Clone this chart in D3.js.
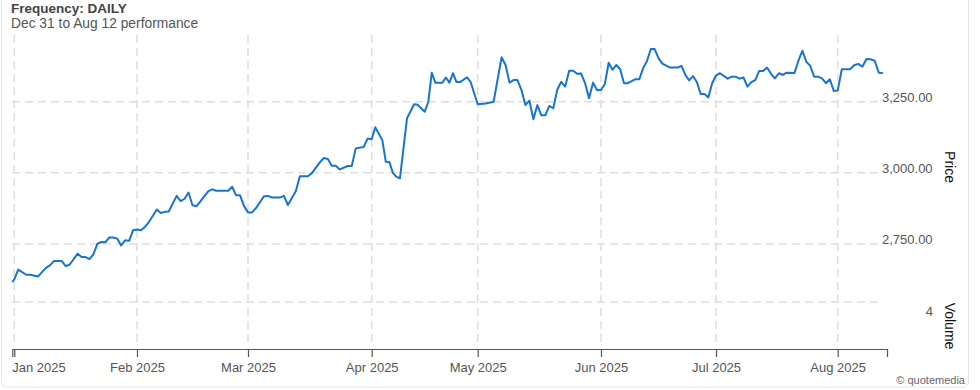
<!doctype html>
<html>
<head>
<meta charset="utf-8">
<script src="https://d3js.org/d3.v7.min.js"></script>
<style>
  body { margin: 0; background: #fff; }
  svg { font-family: Helvetica, Arial, "Liberation Sans", sans-serif; display: block; }
</style>
</head>
<body>
<svg width="980" height="390"></svg>
<script>
// daily closes
var dates = ["2024-12-31","2025-01-01","2025-01-02","2025-01-04","2025-01-05","2025-01-07","2025-01-08","2025-01-09","2025-01-10","2025-01-11",
  "2025-01-13","2025-01-14","2025-01-15","2025-01-17","2025-01-18","2025-01-19","2025-01-20","2025-01-21","2025-01-22","2025-01-23",
  "2025-01-24","2025-01-25","2025-01-26","2025-01-27","2025-01-28","2025-01-29","2025-01-30","2025-01-31","2025-02-01","2025-02-02",
  "2025-02-03","2025-02-04","2025-02-06","2025-02-07","2025-02-08","2025-02-09","2025-02-11","2025-02-12","2025-02-13","2025-02-14",
  "2025-02-15","2025-02-16","2025-02-17","2025-02-19","2025-02-20","2025-02-21","2025-02-24","2025-02-25","2025-02-26","2025-02-27",
  "2025-02-28","2025-03-01","2025-03-02","2025-03-03","2025-03-05","2025-03-06","2025-03-07","2025-03-09","2025-03-10","2025-03-11",
  "2025-03-12","2025-03-13","2025-03-14","2025-03-16","2025-03-17","2025-03-19","2025-03-20","2025-03-21","2025-03-22","2025-03-23",
  "2025-03-24","2025-03-26","2025-03-27","2025-03-28","2025-03-30","2025-03-31","2025-04-01","2025-04-02","2025-04-04","2025-04-05",
  "2025-04-06","2025-04-07","2025-04-08","2025-04-09","2025-04-11","2025-04-13","2025-04-14","2025-04-16","2025-04-17","2025-04-18",
  "2025-04-19","2025-04-21","2025-04-22","2025-04-23","2025-04-24","2025-04-25","2025-04-26","2025-04-28","2025-04-29","2025-05-01",
  "2025-05-03","2025-05-05","2025-05-07","2025-05-08","2025-05-09","2025-05-10","2025-05-11","2025-05-12","2025-05-13","2025-05-14",
  "2025-05-15","2025-05-16","2025-05-17","2025-05-18","2025-05-19","2025-05-20","2025-05-21","2025-05-22","2025-05-23","2025-05-24",
  "2025-05-25","2025-05-26","2025-05-27","2025-05-28","2025-05-29","2025-05-30","2025-05-31","2025-06-01","2025-06-02","2025-06-03",
  "2025-06-04","2025-06-05","2025-06-06","2025-06-07","2025-06-08","2025-06-10","2025-06-11","2025-06-12","2025-06-13","2025-06-14",
  "2025-06-15","2025-06-16","2025-06-17","2025-06-19","2025-06-21","2025-06-22","2025-06-23","2025-06-24","2025-06-25","2025-06-26",
  "2025-06-27","2025-06-28","2025-06-29","2025-06-30","2025-07-01","2025-07-02","2025-07-04","2025-07-05","2025-07-06","2025-07-07",
  "2025-07-08","2025-07-09","2025-07-10","2025-07-11","2025-07-12","2025-07-13","2025-07-14","2025-07-15","2025-07-16","2025-07-17",
  "2025-07-18","2025-07-19","2025-07-21","2025-07-22","2025-07-23","2025-07-24","2025-07-25","2025-07-26","2025-07-27","2025-07-28",
  "2025-07-29","2025-07-30","2025-07-31","2025-08-01","2025-08-02","2025-08-04","2025-08-05","2025-08-06","2025-08-07","2025-08-08",
  "2025-08-09","2025-08-10","2025-08-11","2025-08-12"];

var prices = [2616,2626,2660,2642,2642,2636,2651,2666,2675,2690,
  2690,2672,2678,2716,2704,2704,2697,2714,2751,2757,
  2756,2773,2773,2769,2745,2763,2761,2798,2801,2798,
  2810,2827,2871,2859,2863,2864,2919,2901,2909,2931,
  2886,2883,2900,2936,2942,2937,2937,2951,2921,2921,
  2883,2861,2861,2876,2918,2919,2913,2913,2919,2887,
  2912,2936,2988,2988,2999,3037,3052,3049,3025,3025,
  3012,3024,3024,3086,3091,3121,3118,3160,3115,3039,
  3038,3000,2986,2981,3192,3241,3239,3215,3248,3352,
  3317,3317,3335,3317,3350,3319,3319,3336,3319,3241,
  3244,3250,3406,3379,3317,3326,3326,3291,3238,3254,
  3188,3238,3202,3202,3235,3227,3292,3320,3303,3359,
  3359,3348,3349,3315,3262,3317,3291,3291,3312,3387,
  3362,3379,3364,3315,3315,3329,3329,3368,3393,3435,
  3435,3403,3384,3370,3370,3376,3344,3325,3340,3319,
  3277,3277,3265,3315,3342,3350,3331,3338,3338,3331,
  3335,3303,3319,3326,3358,3358,3370,3348,3332,3350,
  3344,3352,3351,3394,3429,3391,3376,3338,3338,3332,
  3315,3329,3288,3289,3364,3364,3378,3383,3373,3400,
  3399,3394,3352,3351];

var priceTicks = [2750, 3000, 3250];
var volumeTicks = [4];
var monthStarts = ["2025-01-01","2025-02-01","2025-03-01","2025-04-01","2025-05-01","2025-06-01","2025-07-01","2025-08-01"];

var parseDate = d3.timeParse("%Y-%m-%d");
var data = dates.map(function(d, i) { return { date: parseDate(d), price: prices[i] }; });
var months = monthStarts.map(parseDate);

var svg = d3.select("svg");

// time axis: one segment per month, matching the uneven month widths of the original
var x = d3.scaleTime()
  .domain([parseDate("2024-12-31")].concat(months, [parseDate("2025-08-13")]))
  .range([12.3, 14.3, 137, 248, 371.7, 477.7, 601, 716, 837.7, 887]);

var y = d3.scaleLinear().domain([2750, 3250]).range([244, 101.7]);
var yVol = d3.scaleLinear().domain([0, 4]).range([348, 302]);

// frame
svg.append("rect")
  .attr("x", 1.5).attr("y", -10)
  .attr("width", 967).attr("height", 397)
  .attr("rx", 5)
  .attr("fill", "none")
  .attr("stroke", "#e6e6e6");

// header
svg.append("text").attr("x", 11).attr("y", 13)
  .attr("font-size", 13.5).attr("font-weight", "bold").attr("fill", "#444")
  .text("Frequency: DAILY");
svg.append("text").attr("x", 11).attr("y", 27.5)
  .attr("font-size", 13.8).attr("fill", "#555")
  .text("Dec 31 to Aug 12 performance");

// grid
var grid = svg.append("g")
  .attr("stroke", "#dedede")
  .attr("stroke-width", 1.5)
  .attr("stroke-dasharray", "8,5");

grid.selectAll(".vg").data(months).enter().append("line")
  .attr("x1", function(d) { return x(d); })
  .attr("x2", function(d) { return x(d); })
  .attr("y1", 35).attr("y2", 346);

grid.selectAll(".hg").data(priceTicks).enter().append("line")
  .attr("x1", 12).attr("x2", 880)
  .attr("y1", function(d) { return y(d); })
  .attr("y2", function(d) { return y(d); });

grid.selectAll(".vol").data(volumeTicks).enter().append("line")
  .attr("x1", 12).attr("x2", 880)
  .attr("y1", function(d) { return yVol(d); })
  .attr("y2", function(d) { return yVol(d); });

// price labels on the right
svg.selectAll(".plabel").data(priceTicks).enter().append("text")
  .attr("x", 882)
  .attr("y", function(d) { return y(d); })
  .attr("font-size", 13).attr("fill", "#555")
  .text(d3.format(",.2f"));

svg.selectAll(".vlabel").data(volumeTicks).enter().append("text")
  .attr("x", 933)
  .attr("y", function(d) { return yVol(d) + 14; })
  .attr("text-anchor", "end")
  .attr("font-size", 13).attr("fill", "#555")
  .text(function(d) { return d; });

svg.append("text")
  .attr("transform", "translate(945,167) rotate(90)")
  .attr("text-anchor", "middle")
  .attr("font-size", 14).attr("fill", "#111")
  .text("Price");
svg.append("text")
  .attr("transform", "translate(945,326) rotate(90)")
  .attr("text-anchor", "middle")
  .attr("font-size", 14).attr("fill", "#111")
  .text("Volume");

// x axis
var xAxis = svg.append("g")
  .attr("transform", "translate(0,349)")
  .call(d3.axisBottom(x)
    .tickValues(months)
    .tickFormat(d3.timeFormat("%b %Y"))
    .tickSizeOuter(0)
    .tickSize(8)
    .tickPadding(6));
xAxis.select(".domain").attr("stroke", "#555").attr("stroke-width", 1.2);
xAxis.selectAll(".tick line").attr("stroke", "#555").attr("stroke-width", 1.2);
xAxis.selectAll(".tick text")
  .attr("font-size", 13)
  .attr("fill", "#555")
  .attr("font-family", null);
xAxis.select(".tick text").attr("text-anchor", "start").attr("x", -2.5);

// price line
svg.append("path")
  .datum(data)
  .attr("fill", "none")
  .attr("stroke", "#1774d1")
  .attr("stroke-width", 2)
  .attr("stroke-linejoin", "round")
  .attr("d", d3.line()
    .x(function(d) { return x(d.date); })
    .y(function(d) { return y(d.price); }));

svg.append("text")
  .attr("x", 965).attr("y", 384)
  .attr("text-anchor", "end")
  .attr("font-size", 11).attr("fill", "#666")
  .text("\u00a9 quotemedia");
</script>
</body>
</html>
